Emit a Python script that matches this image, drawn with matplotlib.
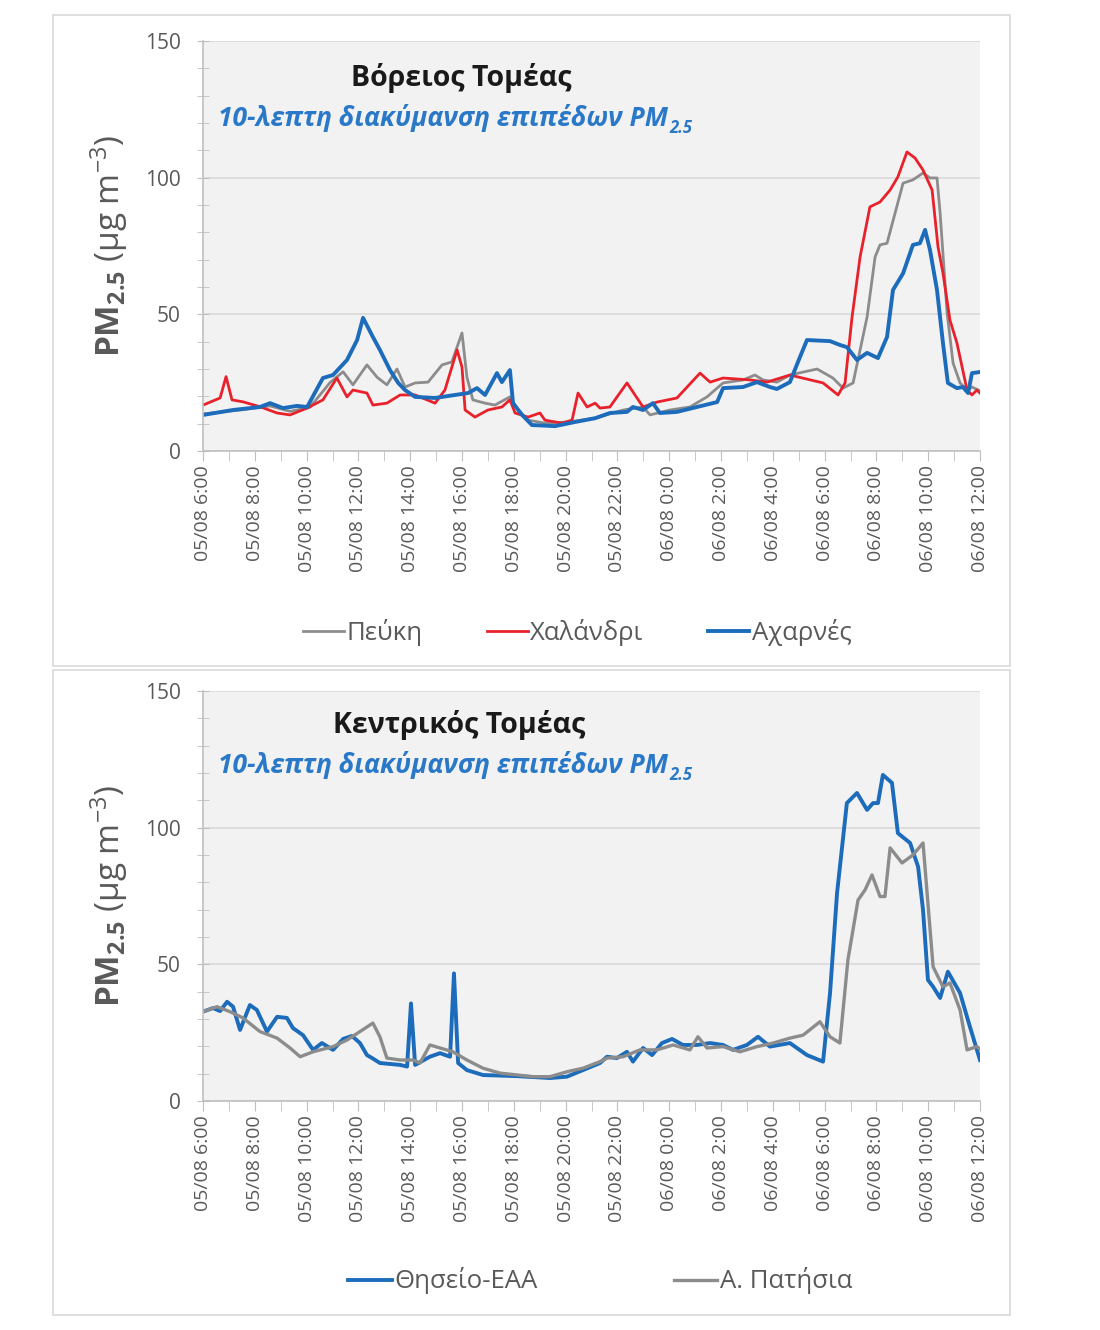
import matplotlib
matplotlib.use("Agg")
import matplotlib.pyplot as plt
from matplotlib.patches import Rectangle
from matplotlib.ticker import MultipleLocator

plt.rcParams['font.family'] = ['Open Sans', 'DejaVu Sans']
plt.rcParams['mathtext.fontset'] = 'custom'
plt.rcParams['mathtext.rm'] = 'Open Sans'
plt.rcParams['mathtext.it'] = 'Open Sans:italic'
plt.rcParams['mathtext.bf'] = 'Open Sans:bold'

# ---------------- data (hours after 05/08 6:00) ----------------
x_tick_labels = ["05/08 6:00", "05/08 8:00", "05/08 10:00", "05/08 12:00", "05/08 14:00",
                 "05/08 16:00", "05/08 18:00", "05/08 20:00", "05/08 22:00", "06/08 0:00",
                 "06/08 2:00", "06/08 4:00", "06/08 6:00", "06/08 8:00", "06/08 10:00",
                 "06/08 12:00"]
x_tick_hours = [0, 2, 4, 6, 8, 10, 12, 14, 16, 18, 20, 22, 24, 26, 28, 30]

# Top panel: Βόρειος Τομέας
peuki_t = [0, 1.43, 2.59, 3.36, 4.13, 4.90, 5.41, 5.79, 6.33, 6.72, 7.10, 7.49, 7.80, 8.19,
           8.69, 9.23, 9.61, 10.0, 10.19, 10.42, 10.89, 11.27, 11.85, 12.16, 12.55, 13.2,
           14.09, 15.14, 16.22, 16.99, 17.26, 18.03, 18.80, 19.46, 20.08, 20.85, 21.31,
           21.62, 22.16, 22.66, 23.71, 24.32, 24.71, 25.1, 25.64, 25.95, 26.14, 26.41,
           27.03, 27.41, 27.80, 28.07, 28.34, 28.46, 28.73, 28.96, 29.23, 29.5, 29.69, 30]
peuki_v = [13.5, 15, 16.5, 14.5, 16, 25, 29, 24.2, 31.5, 27, 24.2, 30, 23.4, 24.9,
           25.2, 31.5, 32.6, 43.2, 27, 18.7, 17.5, 16.8, 19.8, 15, 11.3, 10.2,
           10.6, 12, 15, 16.1, 13.2, 15, 16.1, 19.8, 24.9, 26, 27.8,
           26, 25.2, 27.8, 30, 26.7, 23, 24.9, 49, 71, 75.4, 76,
           98, 99.2, 101.7, 99.9, 99.9, 87, 50.5, 32.2, 24.9, 22.3, 23.4, 22]

chalandri_t = [0, 0.66, 0.89, 1.12, 1.54, 2.2, 2.86, 3.36, 4.02, 4.63, 5.17, 5.56, 5.79,
               6.33, 6.56, 7.10, 7.61, 8.19, 8.96, 9.34, 9.81, 10.0, 10.12, 10.5, 11.0,
               11.54, 11.85, 12.05, 12.55, 13.01, 13.2, 13.86, 14.25, 14.48, 14.83, 15.14,
               15.33, 15.71, 16.37, 16.99, 17.53, 18.3, 19.19, 19.58, 20.08, 21.12, 21.78,
               22.66, 23.94, 24.52, 24.79, 25.06, 25.37, 25.75, 26.14, 26.53, 26.83, 27.18,
               27.49, 27.8, 28.15, 28.38, 28.57, 28.84, 29.11, 29.5, 29.69, 29.88, 30]
chalandri_v = [16.8, 19.4, 27.2, 18.7, 18.0, 16.2, 13.9, 13.2, 15.7, 18.7, 26.7, 19.8, 22.3,
               21.2, 16.8, 17.5, 20.5, 20.5, 17.5, 22.3, 37, 30.7, 15, 12.4, 15,
               16.1, 18.7, 13.9, 12.4, 13.9, 11.3, 10.2, 11.3, 21.2, 16.1, 17.5,
               15.7, 16.1, 24.9, 16.1, 17.9, 19.4, 28.5, 25.2, 26.7, 26, 25.2,
               27.8, 24.9, 20.5, 24.9, 49, 71, 89.3, 91.1, 95.5, 100.3, 109.4,
               107.2, 102.8, 95.5, 74.6, 65.1, 47.9, 39.5, 22.3, 20.5, 22.3, 21.2]

acharnes_t = [0, 1.16, 2.2, 2.59, 3.09, 3.63, 4.02, 4.63, 5.02, 5.56, 5.95, 6.18, 6.56, 6.83,
              7.22, 7.53, 7.80, 8.19, 8.96, 9.73, 10.23, 10.58, 10.89, 11.35, 11.54, 11.85,
              11.97, 12.32, 12.70, 13.59, 14.36, 15.14, 15.71, 16.37, 16.60, 16.99, 17.37,
              17.64, 18.30, 19.07, 19.85, 20.08, 20.85, 21.39, 21.89, 22.16, 22.66, 23.05,
              23.32, 24.21, 24.59, 24.86, 25.25, 25.64, 26.06, 26.41, 26.64, 27.03, 27.41,
              27.68, 27.88, 28.07, 28.34, 28.57, 28.76, 29.11, 29.34, 29.54, 29.69, 30]
acharnes_v = [13.2, 15, 16.1, 17.5, 15.7, 16.5, 16.1, 26.7, 27.8, 33.3, 40.6, 48.7, 41.7, 37,
              29.6, 25, 22.3, 19.8, 19.4, 20.5, 21.2, 23, 20.5, 28.5, 25.2, 29.6,
              17.5, 13.2, 9.5, 9.1, 10.6, 12, 13.9, 14.3, 16.1, 15, 17.5,
              13.9, 14.3, 16.1, 17.9, 23, 23.4, 25.2, 23.4, 22.7, 25.2, 34.4,
              40.6, 40.2, 38.8, 38, 33.3, 35.9, 34, 41.7, 58.9, 65, 75.4,
              76, 80.9, 73.5, 58.9, 39.5, 24.9, 23, 23.4, 21.2, 28.5, 28.9]

# Bottom panel: Κεντρικός Τομέας
thiseio_t = [0, 0.39, 0.66, 0.93, 1.16, 1.43, 1.81, 2.08, 2.47, 2.86, 3.24, 3.47, 3.86, 4.25,
             4.59, 5.02, 5.41, 5.75, 6.06, 6.33, 6.53, 6.83, 7.61, 7.88, 8.03, 8.19, 8.76,
             9.15, 9.54, 9.69, 9.85, 10.19, 10.81, 12.12, 13.40, 14.05, 14.67, 15.33, 15.60,
             15.98, 16.37, 16.60, 16.99, 17.34, 17.72, 18.11, 18.53, 19.07, 19.58, 20.08,
             20.46, 21.00, 21.43, 21.89, 22.66, 23.32, 23.94, 24.21, 24.48, 24.86, 25.25,
             25.64, 25.87, 26.06, 26.25, 26.60, 26.83, 27.30, 27.61, 27.80, 27.99, 28.19,
             28.46, 28.76, 29.23, 29.61, 30]
thiseio_v = [32.7, 34, 32.9, 36.3, 34.5, 26, 35.1, 33.3, 25.4, 30.8, 30.4, 26.7, 24.1, 18.7,
             21.2, 18.7, 22.7, 23.8, 21.2, 16.8, 15.7, 13.9, 13.2, 12.6, 35.7, 13.2, 16.2,
             17.5, 16.2, 46.7, 13.9, 11.3, 9.5, 9.1, 8.4, 8.9, 11.3, 13.9, 16.2,
             15.7, 18, 14.4, 19.4, 16.8, 21.2, 22.7, 20.5, 20.5, 21.2, 20.5,
             18.7, 20.5, 23.5, 19.9, 21.2, 16.8, 14.4, 39.5, 76, 109, 112.7,
             106.5, 109, 109, 119.3, 116.4, 98, 94.4, 85.7, 69.9, 44.3, 41.8,
             37.7, 47.3, 39.5, 27.2, 15]

patisia_t = [0, 0.54, 1.04, 1.54, 2.20, 2.86, 3.36, 3.75, 4.25, 5.02, 5.56, 6.06, 6.56, 6.83,
             7.10, 7.61, 8.11, 8.38, 8.76, 9.15, 9.65, 10.19, 10.81, 11.47, 12.74, 13.40,
             14.05, 14.67, 15.33, 15.60, 16.22, 16.87, 17.53, 18.15, 18.80, 19.11, 19.46,
             20.08, 20.73, 21.39, 22.01, 22.66, 23.17, 23.82, 24.21, 24.59, 24.90, 25.29,
             25.56, 25.83, 26.14, 26.33, 26.53, 26.99, 27.41, 27.80, 28.19, 28.57, 28.84,
             29.23, 29.50, 29.88, 30]
patisia_v = [32.7, 34.5, 32.7, 30.4, 25.4, 23, 19.4, 16.2, 18, 19.9, 22.3, 25.4, 28.5, 23.5,
             15.7, 15, 15, 13.9, 20.5, 19.4, 18, 15, 12, 10.2, 8.9, 8.9,
             10.7, 12, 14.4, 15.7, 16.2, 18.7, 18.7, 20.5, 18.7, 23.5, 19.4,
             19.9, 18, 19.9, 21.2, 23, 24.1, 29, 23.5, 21.2, 51.6, 73.5,
             77.2, 82.7, 74.8, 74.8, 92.6, 87.1, 90, 94.4, 49.1, 41.8, 43.2,
             33.3, 18.7, 19.9, 19]

# ---------------- styling ----------------
GRAY = '#8c8c8c'
RED = '#e8212b'
BLUE = '#1c6cbb'
TXT = '#595959'
SUB_BLUE = '#2a78c8'

W, H = 1100, 1330
fig = plt.figure(figsize=(W / 100, H / 100), dpi=100)
fig.patch.set_facecolor('white')

def fx(px):
    return px / W

def fy(py):
    return 1 - py / H

# panel frames
for (x0, y0, x1, y1) in [(53, 15, 1010, 666), (53, 670, 1010, 1315)]:
    fig.patches.append(Rectangle((fx(x0), fy(y1)), fx(x1) - fx(x0), fy(y0) - fy(y1),
                                 transform=fig.transFigure, fill=False,
                                 edgecolor='#d9d9d9', linewidth=1.2))

ax_left, ax_right = 203, 980
ax1 = fig.add_axes([fx(ax_left), fy(451), fx(ax_right) - fx(ax_left), fy(41) - fy(451)])
ax2 = fig.add_axes([fx(ax_left), fy(1101), fx(ax_right) - fx(ax_left), fy(691) - fy(1101)])

def style(ax):
    ax.set_facecolor('#f2f2f2')
    ax.set_xlim(0, 30)
    ax.set_ylim(0, 150)
    ax.set_yticks([0, 50, 100, 150])
    ax.yaxis.set_minor_locator(MultipleLocator(10))
    ax.set_xticks(x_tick_hours, x_tick_labels, rotation=90)
    ax.xaxis.set_minor_locator(MultipleLocator(1))
    for s in ['top', 'right']:
        ax.spines[s].set_visible(False)
    for s in ['left', 'bottom']:
        ax.spines[s].set_color('#bfbfbf')
        ax.spines[s].set_linewidth(1.2)
    ax.grid(axis='y', which='major', color='#d9d9d9', linewidth=1.2)
    ax.set_axisbelow(True)
    ax.tick_params(axis='y', which='both', direction='inout', length=8, color='#bfbfbf',
                   labelsize=15, labelcolor=TXT, pad=12)
    ax.tick_params(axis='x', which='both', direction='out', length=7, color='#bfbfbf',
                   labelsize=14, labelcolor=TXT, pad=3)
    ax.set_ylabel(r'$\mathbf{PM}_{\mathbf{2.5}}$ (μg m$^{-3}$)', fontsize=24, color=TXT)
    ax.yaxis.set_label_coords(-0.094, 0.5)

style(ax1)
style(ax2)

def subtitle(ax, y):
    t = ax.text(0.019, y, '10-λεπτη διακύμανση επιπέδων PM', transform=ax.transAxes,
                ha='left', va='center', fontsize=19, fontstyle='italic', fontweight='bold',
                color=SUB_BLUE)
    ax.annotate('2.5', xy=(1.0, 0.0), xycoords=t, xytext=(1, 3), textcoords='offset points',
                ha='left', va='center', fontsize=12, fontstyle='italic', fontweight='bold',
                color=SUB_BLUE)

# top panel
l1, = ax1.plot(peuki_t, peuki_v, color=GRAY, lw=2.0, label='Πεύκη')
l2, = ax1.plot(chalandri_t, chalandri_v, color=RED, lw=2.0, label='Χαλάνδρι')
l3, = ax1.plot(acharnes_t, acharnes_v, color=BLUE, lw=2.8, label='Αχαρνές')
ax1.text(0.333, 0.91, 'Βόρειος Τομέας', transform=ax1.transAxes, ha='center', va='center',
         fontsize=20.5, fontweight='bold', color='#1a1a1a')
subtitle(ax1, 0.812)
fig.legend(handles=[l1, l2, l3], loc='center', bbox_to_anchor=(fx(577), fy(632)), ncol=3,
           frameon=False, fontsize=18.5, labelcolor=TXT, handlelength=1.6, handletextpad=0.1,
           columnspacing=2.5)

# bottom panel
m1, = ax2.plot(thiseio_t, thiseio_v, color=BLUE, lw=2.8, label='Θησείο-ΕΑΑ')
m2, = ax2.plot(patisia_t, patisia_v, color=GRAY, lw=2.4, label='Α. Πατήσια')
ax2.text(0.329, 0.918, 'Κεντρικός Τομέας', transform=ax2.transAxes, ha='center', va='center',
         fontsize=20.5, fontweight='bold', color='#1a1a1a')
subtitle(ax2, 0.82)
fig.legend(handles=[m1, m2], loc='center', bbox_to_anchor=(fx(600), fy(1281)), ncol=2,
           frameon=False, fontsize=18.5, labelcolor=TXT, handlelength=1.7, handletextpad=0.1,
           columnspacing=5.3)

fig.savefig('out.png', dpi=100, facecolor='white')
